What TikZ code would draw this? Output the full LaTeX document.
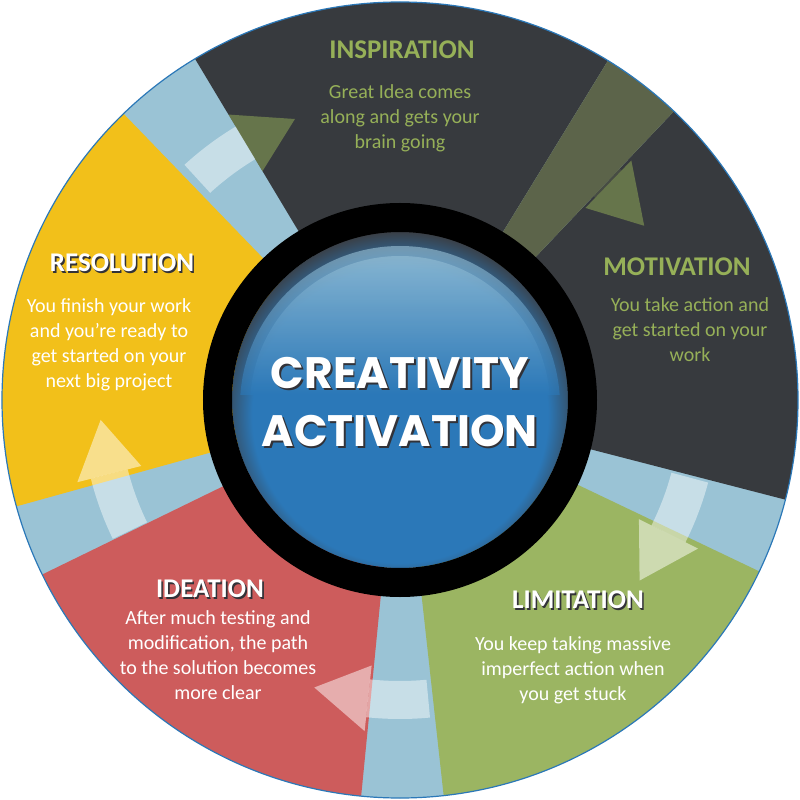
\documentclass[tikz,border=0pt]{standalone}
\usepackage{fontspec}
\setmainfont{Carlito}
\newfontfamily\hubfont{Poppins}
\usetikzlibrary{positioning}
\definecolor{gapblue}{RGB}{154,195,213}
\definecolor{slate}{RGB}{55,58,62}
\definecolor{band}{RGB}{92,100,74}
\definecolor{sun}{RGB}{242,192,26}
\definecolor{brick}{RGB}{205,92,92}
\definecolor{leaf}{RGB}{155,181,98}
\definecolor{olive}{RGB}{150,176,88}
\definecolor{hubblue}{RGB}{43,120,184}
\definecolor{hublight}{RGB}{158,197,216}
\definecolor{hubdark}{RGB}{58,62,68}
\definecolor{dropgray}{RGB}{50,50,56}
\pgfdeclareradialshading{hubrim}{\pgfqpoint{0bp}{-4bp}}{color(0bp)=(hubblue); color(22bp)=(hubblue); color(27bp)=(hubdark); color(50bp)=(hubdark)}

\begin{document}
\begin{tikzpicture}[x=1pt,y=1pt,
    title/.style={inner sep=0pt,font=\fontsize{27}{27}\selectfont\bfseries},
    body/.style={inner sep=0pt,align=center,font=\fontsize{20}{25}\selectfont},
    drop/.style={dropgray,xshift=1.6pt,yshift=-1.6pt}]
  \fill[white] (-400,-400) rectangle (400,400);
  \useasboundingbox (-400,-400) rectangle (400,400);
  % wheel: gaps first, then the five segments
  \fill[gapblue] (0,0) circle (398);
  \foreach \a/\b/\col in {-14.5/46.5/slate,58.5/121/slate,134/195.5/sun,206/264.4/brick,276.3/334.5/leaf}
    \fill[\col] (0,0) -- (\a:398) arc[start angle=\a,end angle=\b,radius=398] -- cycle;
  \fill[band] (0,0) -- (46.5:398) arc[start angle=46.5,end angle=58.5,radius=398] -- cycle;
  \draw[hubblue,line width=1.2] (0,0) circle (398);
  % arrows across the gaps (clockwise)
  \foreach \c/\sc/\hc in {200.8/white/white,-89.6/white/white,-20/white/white,127.5/white/olive,52.5/band/olive}{
    \fill[\sc,fill opacity=.45] ({\c+5}:281) arc[start angle=\c+5,end angle=\c-6.5,radius=281]
      -- ({\c-6.5}:319) arc[start angle=\c-6.5,end angle=\c+5,radius=319] -- cycle;
    \fill[\hc,fill opacity=.5] ({\c-6.5}:267) -- ({\c-17}:300) -- ({\c-6.5}:333) -- cycle;
  }
  % hub
  \shade[shading=hubrim] (0,0) circle (168);
  \begin{scope}
    \clip (0,-6) circle (160);
    \shade[top color=hublight,bottom color=hubblue,fill opacity=.6] (-170,154) rectangle (170,5);
  \end{scope}
  \begin{scope}
    \clip (0,-6) circle (150);
    \shade[top color=hublight,bottom color=hubblue,fill opacity=.6] (-170,154) rectangle (170,5);
  \end{scope}
  \draw[black,line width=29] (0,0) circle (182.5);
  \node[drop,align=center,font=\hubfont\bfseries\fontsize{44}{58}\selectfont] (hub-shadow) at (0,-2) {CREATIVITY\\ACTIVATION};
  \node[white,align=center,font=\hubfont\bfseries\fontsize{44}{58}\selectfont] (hub) at (0,-2) {CREATIVITY\\ACTIVATION};

  % segment texts
  \node[title,olive] (insp-title) at (2,350) {INSPIRATION};
  \node[body,olive] (insp-text) at (0,282) {Great Idea comes\\along and gets your\\brain going};
  \node[title,olive] (motiv-title) at (277,133) {MOTIVATION};
  \node[body,olive] (motiv-text) at (290,70) {You take action and\\get started on your\\work};
  \node[title,drop] (limit-shadow) at (178,-200) {LIMITATION};
  \node[title,white] (limit-title) at (178,-200) {LIMITATION};
  \node[body,white] (limit-text) at (173,-270) {You keep taking massive\\imperfect action when\\you get stuck};
  \node[title,drop] (idea-shadow) at (-190,-189) {IDEATION};
  \node[title,white] (idea-title) at (-190,-189) {IDEATION};
  \node[body,white] (idea-text) at (-182,-255) {After much testing and\\modification, the path\\to the solution becomes\\more clear};
  \node[title,drop] (resol-shadow) at (-278,137) {RESOLUTION};
  \node[title,white] (resol-title) at (-278,137) {RESOLUTION};
  \node[body,white] (resol-text) at (-291,55.5) {You finish your work\\and you're ready to\\get started on your\\next big project};
\end{tikzpicture}
\end{document}
